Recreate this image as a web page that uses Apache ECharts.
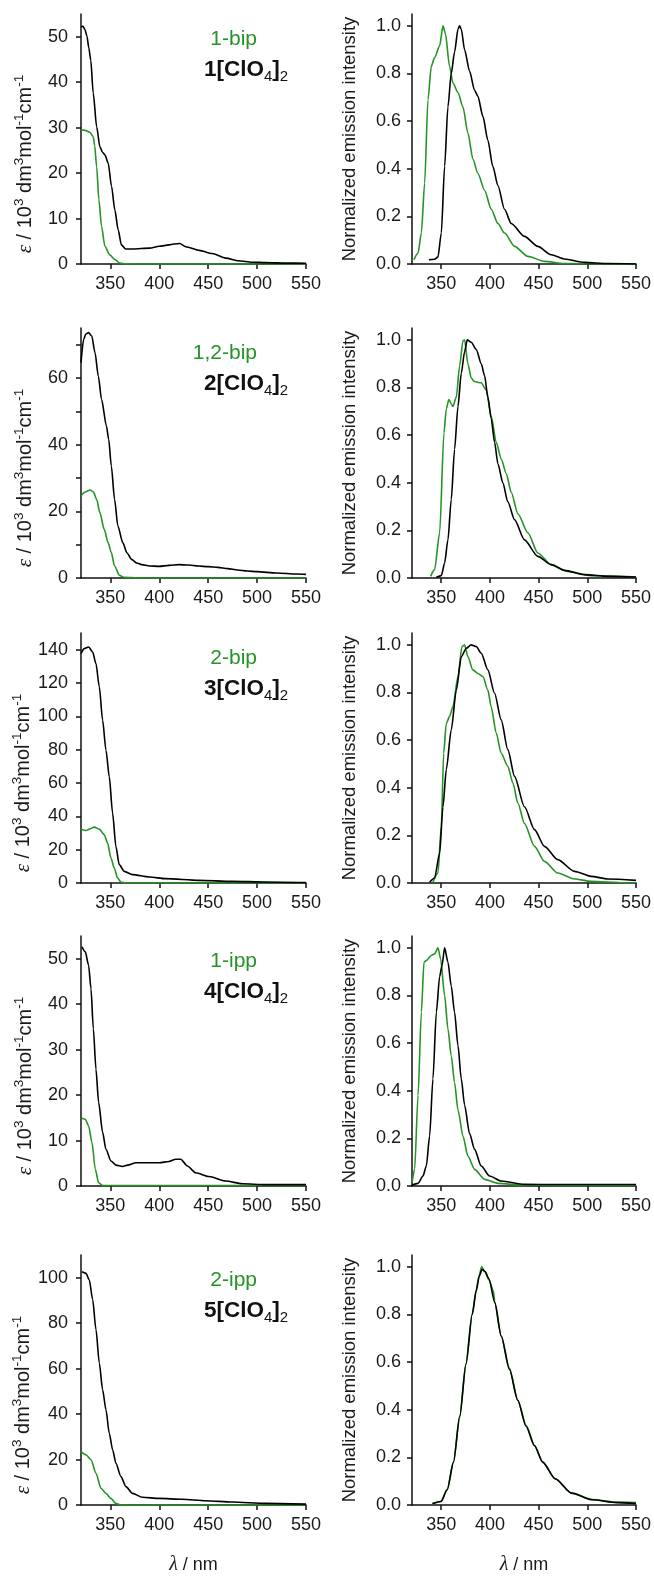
<!DOCTYPE html>
<html><head><meta charset="utf-8">
<script src="https://cdn.jsdelivr.net/npm/echarts@6/dist/echarts.min.js"></script>
<style>html,body{margin:0;padding:0;background:#fff}#c{width:654px;height:1576px}</style>
</head><body><div id="c"></div><script>
// ---------- data ----------
const xTicks = [350, 400, 450, 500, 550];
const greenNames = ['1-bip', '1,2-bip', '2-bip', '1-ipp', '2-ipp'];
const complexNums = ['1', '2', '3', '4', '5'];
const absMax = [55, 75, 150, 55, 110];
const absTicks = [
  [0,10,20,30,40,50],
  [0,10,20,30,40,50,60,70],
  [0,20,40,60,80,100,120,140],
  [0,10,20,30,40,50],
  [0,20,40,60,80,100]
];
const absLabels = [
  [0,10,20,30,40,50],
  [0,20,40,60],
  [0,20,40,60,80,100,120,140],
  [0,10,20,30,40,50],
  [0,20,40,60,80,100]
];
const emTicks = [0, 0.2, 0.4, 0.6, 0.8, 1.0];

const abs1Black = [[320,52.2],[322,52.3],[324,51.6],[326,50.2],[328,47.5],[330,44.8],[332.5,37.6],[336,30.2],[339.3,25.8],[342,24.6],[344.4,24],[347.8,22.2],[351.2,17.1],[354.6,11.9],[358,7.5],[361.3,4.2],[365.7,3.3],[373,3.3],[390,3.5],[400,3.9],[410,4.2],[415,4.4],[421,4.5],[427,3.8],[441,3.0],[454,2.3],[468,1.3],[481,0.7],[495,0.4],[509,0.3],[530,0.2],[550,0.15]];
const abs1Green = [[320,29.5],[324,29.4],[329,29],[332.5,28],[334,26],[336,21.4],[338.3,14.1],[341,8.3],[344.4,3.9],[349.5,2.0],[354.6,1.0],[359.6,0.2],[366,0.05],[380,0],[450,0],[500,0],[550,0]];
const em1Black = [[337.4,0.018],[343.2,0.02],[346.7,0.03],[350.1,0.13],[353.5,0.41],[356.9,0.66],[360.3,0.8],[363.7,0.89],[367.2,0.986],[368.9,1.0],[370.6,0.986],[374,0.9],[379.1,0.81],[384.2,0.73],[387.6,0.705],[392.8,0.62],[397.9,0.52],[403,0.41],[408.2,0.33],[415,0.23],[421.9,0.17],[435.5,0.116],[449.2,0.074],[462.9,0.039],[476.5,0.021],[497,0.007],[521,0.002],[550,0]];
const em1Green = [[322,0.018],[326.2,0.046],[329.6,0.13],[333,0.34],[336.4,0.69],[339.8,0.83],[343.2,0.867],[348.4,0.916],[351.8,1.0],[354.2,0.97],[358.6,0.83],[362,0.76],[367.2,0.72],[372.3,0.66],[377.4,0.55],[382.6,0.44],[387.7,0.38],[394.5,0.31],[401.4,0.23],[408.2,0.17],[415,0.13],[425.3,0.074],[439,0.032],[456,0.011],[476.5,0.002],[550,0]];

const abs2Black = [[320,64.6],[322.7,71.6],[325,73.2],[327.7,73.6],[331,72.6],[334.3,67.6],[337.7,60.6],[341,53.6],[346,45.6],[348.3,41.6],[351,33.6],[354.3,23.6],[357.7,15.6],[362.7,10.6],[367,7.5],[372,5.5],[377,4.5],[382,4.0],[390,3.6],[400,3.5],[410,3.8],[420,4.0],[430,3.9],[440,3.6],[450,3.4],[460,3.2],[470,2.8],[480,2.4],[490,2.1],[500,1.9],[520,1.5],[540,1.2],[550,1.1]];
const abs2Green = [[320,24.6],[324.3,25.8],[329.3,26.4],[332.7,25.8],[336,23.6],[339.3,19.6],[343.7,14.6],[347.7,10.6],[351,7.6],[354.3,3.6],[359.3,0.8],[364.3,0.2],[380,0],[450,0],[550,0]];
const em2Black = [[345,0.003],[350.1,0.01],[353.5,0.063],[356.9,0.16],[360.3,0.33],[363.7,0.54],[367.2,0.72],[370.6,0.86],[374,0.95],[376.7,1.0],[380.8,0.99],[386,0.96],[391.1,0.9],[394.5,0.85],[397.9,0.76],[401.3,0.67],[404.8,0.57],[408.2,0.48],[413.3,0.4],[418.4,0.32],[425.3,0.245],[435.5,0.16],[449.2,0.091],[462.9,0.056],[476.5,0.032],[497,0.014],[521,0.007],[550,0.004]];
const em2Green = [[339.1,0.007],[343.2,0.035],[348.4,0.19],[352.8,0.61],[355.2,0.71],[357.9,0.75],[360.5,0.73],[362,0.72],[365.5,0.76],[368.9,0.89],[372.3,0.996],[374,1.0],[377.4,0.9],[380.8,0.84],[384,0.825],[391,0.82],[396.2,0.79],[401.3,0.68],[406.5,0.57],[411.6,0.5],[416.7,0.44],[421.9,0.36],[428.7,0.27],[439,0.19],[449.2,0.105],[462.9,0.056],[479.9,0.028],[503.9,0.01],[550,0.004]];

const abs3Black = [[320,137.6],[323.4,140.6],[327.8,141.6],[331.9,138.6],[335.3,131.6],[338.7,117.7],[342.1,97.7],[345.5,79.8],[348.9,63.8],[352.3,41.9],[355.7,21.9],[359.1,11],[364.2,7],[372.7,5],[389.7,3.6],[406.6,2.6],[440.6,1.6],[474.6,1.0],[508.6,0.6],[550,0.2]];
const abs3Green = [[320,32.3],[325.1,31.5],[328.5,32.3],[333.6,33.5],[338.7,32.3],[343.8,28.9],[347.2,23.9],[350.6,15],[354,9],[357.4,3],[360.8,0.6],[366,0],[400,0],[450,0],[500,0],[550,0]];
const em3Black = [[338.1,0.003],[343.2,0.021],[348.4,0.126],[351.8,0.32],[355.2,0.476],[360.3,0.643],[365.5,0.81],[370.6,0.95],[375.7,0.986],[380.8,1.0],[386,0.993],[391.1,0.965],[397.9,0.895],[404.8,0.797],[411.6,0.685],[418.4,0.56],[425.3,0.448],[435.5,0.32],[445.8,0.224],[456,0.154],[469.7,0.098],[486.8,0.049],[503.9,0.028],[521,0.017],[550,0.011]];
const em3Green = [[341.5,0.003],[346.7,0.042],[350.1,0.24],[352.5,0.545],[355.2,0.67],[358.6,0.7],[362,0.74],[367.2,0.867],[371.3,0.993],[374,1.0],[377.4,0.95],[382.5,0.895],[387.7,0.88],[392.8,0.867],[397.9,0.81],[401.3,0.74],[406.5,0.63],[411.6,0.545],[418.4,0.49],[423.6,0.42],[428.7,0.336],[435.5,0.25],[445.8,0.154],[456,0.091],[469.7,0.042],[486.8,0.017],[503.9,0.007],[538,0.001],[550,0]];

const abs4Black = [[321,52.6],[324.4,51.5],[327.8,48.5],[330.2,43.4],[332.6,34.6],[335.3,25.7],[338,18.4],[342.1,11.8],[345.5,8.1],[350.6,5.5],[355.7,4.6],[362.5,4.3],[367.6,4.6],[376.1,5.1],[386.3,5.1],[399.9,5.1],[410,5.4],[416.9,5.9],[421.9,5.9],[428.7,4.4],[437.2,2.9],[450.8,2.1],[467.8,1.1],[484.8,0.5],[508.6,0.3],[550,0.3]];
const abs4Green = [[321,14.9],[324.4,14.7],[327.8,13.2],[331.2,9.6],[334.6,3.7],[338,0.7],[342.1,0.1],[360,0.1],[400,0.1],[450,0.1],[500,0.1],[550,0.1]];
const em4Black = [[320,0.003],[326.2,0.011],[331.3,0.042],[334.7,0.084],[338.1,0.21],[341.5,0.45],[345,0.73],[348.4,0.88],[350.8,0.926],[353.5,1.0],[356.9,0.94],[360.3,0.84],[363.7,0.73],[367.2,0.59],[370.6,0.45],[374,0.34],[379.1,0.22],[384.3,0.154],[391.1,0.084],[399.6,0.042],[411.6,0.021],[435.5,0.007],[469.7,0.006],[550,0.006]];
const em4Green = [[320,0.014],[322.7,0.07],[326.2,0.38],[329.6,0.73],[332.3,0.94],[334.7,0.947],[339.8,0.968],[343.2,0.975],[346.7,1.0],[349.4,0.954],[353.5,0.8],[356.9,0.66],[360.3,0.547],[363.7,0.435],[367.2,0.32],[372.3,0.21],[377.4,0.126],[384.3,0.07],[394.5,0.028],[408.2,0.011],[435.5,0.003],[550,0.002]];

const abs5Black = [[321,102.6],[325.1,101.9],[328.5,99],[331.9,90.4],[335.3,77.2],[338.7,62.5],[342.1,50.7],[345.5,41.9],[348.9,31.6],[352.3,24.3],[355.7,18.4],[360.8,12.5],[365.9,8.1],[372.7,5.1],[382.9,3.4],[399.9,2.9],[423.6,2.5],[447.4,1.9],[474.6,1.3],[508.6,0.7],[550,0.4]];
const abs5Green = [[320,23.5],[325.1,22.1],[330.2,19.9],[335.3,14],[340.4,7.4],[345.5,5.1],[350.6,2.9],[355.7,0.7],[360.8,0],[400,0],[450,0],[500,0],[550,0]];
const em5Black = [[341,0.006],[349.8,0.015],[356.2,0.064],[362.6,0.18],[369,0.37],[375.4,0.59],[381.8,0.8],[386,0.9],[389,0.96],[392,0.99],[395,0.98],[399,0.95],[405,0.85],[411.6,0.71],[420,0.57],[428.6,0.44],[437.2,0.33],[445.7,0.25],[454.2,0.18],[467,0.11],[484,0.05],[505,0.022],[530,0.01],[550,0.006]];
const em5Green = [[341,0.005],[349.8,0.016],[356.2,0.066],[362.6,0.18],[369,0.375],[375.4,0.595],[381.8,0.8],[386,0.905],[389,0.965],[391.5,1.0],[395,0.98],[399,0.945],[403.5,0.9],[405,0.85],[411.6,0.71],[420,0.575],[428.6,0.44],[437.2,0.335],[445.7,0.25],[454.2,0.18],[467,0.11],[484,0.05],[505,0.023],[530,0.012],[550,0.01]];

// ---------- build ----------
const absBlack = [abs1Black, abs2Black, abs3Black, abs4Black, abs5Black];
const absGreen = [abs1Green, abs2Green, abs3Green, abs4Green, abs5Green];
const emBlack = [em1Black, em2Black, em3Black, em4Black, em5Black];
const emGreen = [em1Green, em2Green, em3Green, em4Green, em5Green];

const GREEN = '#259325';
const FONT = '"Liberation Sans", Arial, sans-serif';
const SERIF = '"Liberation Serif", "DejaVu Serif", serif';
const TXT = '#1a1a1a';
const tops = [14, 328, 633, 936, 1255];
const H = 250;
const LEFT_L = 81, LEFT_W = 225, RIGHT_L = 412, RIGHT_W = 224;

const grids = [], xAxes = [], yAxes = [], series = [], graphics = [];
const axisLine = { show: true, lineStyle: { color: '#111', width: 1.5 } };
const tickBase = { show: true, inside: false, length: 5, lineStyle: { color: '#111', width: 1.5 } };
const labelBase = { color: TXT, fontFamily: FONT, fontSize: 18 };

const supStyle = { fontFamily: FONT, fontSize: 13.5, color: TXT, padding: [0, 0, 12, 0] };

for (let i = 0; i < 5; i++) {
  grids.push({ left: LEFT_L, top: tops[i], width: LEFT_W, height: H });
  grids.push({ left: RIGHT_L, top: tops[i], width: RIGHT_W, height: H });
  const gL = 2 * i, gR = 2 * i + 1;
  const last = i === 4;
  const xName = last ? '{i|λ} / nm' : '';
  const xNameStyle = { fontFamily: FONT, fontSize: 18, color: TXT,
    rich: { i: { fontFamily: SERIF, fontStyle: 'italic', fontSize: 20, color: TXT } } };
  [gL, gR].forEach(g => xAxes.push({
    type: 'value', gridIndex: g, min: 320, max: 550,
    name: xName, nameLocation: 'middle', nameGap: 50, nameTextStyle: xNameStyle,
    axisLine, splitLine: { show: false },
    axisTick: Object.assign({}, tickBase, { customValues: xTicks }),
    axisLabel: Object.assign({}, labelBase, { margin: 11, customValues: xTicks })
  }));
  yAxes.push({
    type: 'value', gridIndex: gL, min: 0, max: absMax[i],
    name: '{e|ε} / 10{s|3} dm{s|3}mol{s|-1}cm{s|-1}',
    nameLocation: 'middle', nameGap: 43,
    nameTextStyle: { fontFamily: FONT, fontSize: 20, color: TXT, padding: [0, 50, 0, 0],
      rich: { e: { fontFamily: SERIF, fontStyle: 'italic', fontSize: 21, color: TXT }, s: supStyle } },
    axisLine, splitLine: { show: false },
    axisTick: Object.assign({}, tickBase, { customValues: absTicks[i] }),
    axisLabel: Object.assign({}, labelBase, { margin: 13, customValues: absLabels[i] })
  });
  yAxes.push({
    type: 'value', gridIndex: gR, min: 0, max: 1.05,
    name: 'Normalized emission intensity',
    nameLocation: 'middle', nameGap: 53,
    nameTextStyle: { fontFamily: FONT, fontSize: 18.5, color: TXT },
    axisLine, splitLine: { show: false },
    axisTick: Object.assign({}, tickBase, { customValues: emTicks }),
    axisLabel: Object.assign({}, labelBase, { margin: 11, customValues: emTicks,
      formatter: v => Number(v).toFixed(1) })
  });
  const lineS = (data, color, xi, yi) => ({
    type: 'line', data, xAxisIndex: xi, yAxisIndex: yi, showSymbol: false,
    smooth: 0.25, smoothMonotone: 'x', silent: true,
    lineStyle: { color, width: 1.6 }
  });
  series.push(lineS(absGreen[i], GREEN, gL, gL));
  series.push(lineS(absBlack[i], '#000', gL, gL));
  series.push(lineS(emGreen[i], GREEN, gR, gR));
  series.push(lineS(emBlack[i], '#000', gR, gR));

  graphics.push({
    type: 'text', x: LEFT_L + 176, y: tops[i] + 25,
    style: { text: greenNames[i], fill: GREEN, font: '21px ' + FONT, textAlign: 'right', textVerticalAlign: 'middle' }
  });
  graphics.push({
    type: 'text', x: LEFT_L + 123, y: tops[i] + 56,
    style: {
      text: '{b|' + complexNums[i] + '[ClO}{s|4}{b|]}{s|2}',
      textAlign: 'left', textVerticalAlign: 'middle',
      rich: {
        b: { fontFamily: FONT, fontWeight: 'bold', fontSize: 22.5, fill: '#111' },
        s: { fontFamily: FONT, fontWeight: 'normal', fontSize: 15, fill: '#111', padding: [13, 0, 0, 0] }
      }
    }
  });
}

const chart = echarts.init(document.getElementById('c'), null, { renderer: 'canvas' });
chart.setOption({
  animation: false,
  backgroundColor: '#fff',
  grid: grids, xAxis: xAxes, yAxis: yAxes, series, graphic: graphics
});
</script></body></html>
